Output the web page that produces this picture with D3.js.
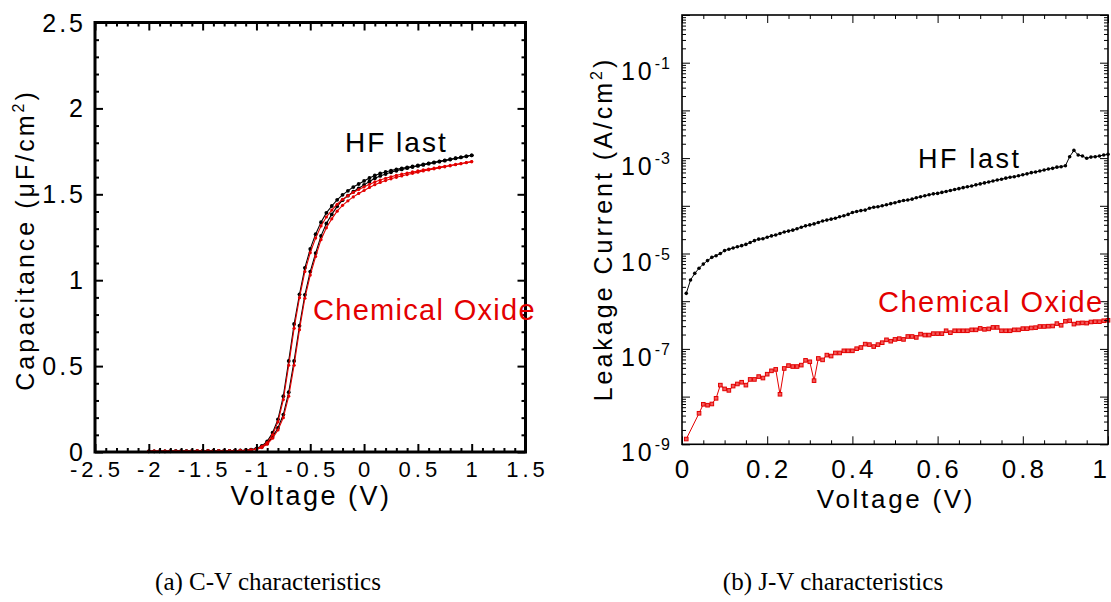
<!DOCTYPE html>
<html>
<head>
<meta charset="utf-8">
<script src="https://cdn.jsdelivr.net/npm/d3@7"></script>
<style>
  html, body { margin: 0; padding: 0; background: #fff; }
  svg { display: block; }
  text { font-family: "Liberation Sans", Arial, Helvetica, sans-serif; fill: #000; }
  .caption { font-family: "Liberation Serif", "Times New Roman", serif; }
</style>
</head>
<body>
<svg id="fig" width="1111" height="602"></svg>
<script>
// ---------- (a) C-V data: gate voltage sweep and capacitance (uF/cm^2) ----------
const cvVoltage = [-2.00,-1.95,-1.90,-1.85,-1.80,-1.75,-1.70,-1.65,-1.60,-1.55,
  -1.50,-1.45,-1.40,-1.35,-1.30,-1.25,-1.20,-1.15,-1.10,-1.05,
  -1.00,-0.95,-0.90,-0.85,-0.80,-0.75,-0.70,-0.65,-0.60,-0.55,
  -0.50,-0.45,-0.40,-0.35,-0.30,-0.25,-0.20,-0.15,-0.10,-0.05,
  0.00,0.05,0.10,0.15,0.20,0.25,0.30,0.35,0.40,0.45,
  0.50,0.55,0.60,0.65,0.70,0.75,0.80,0.85,0.90,0.95,1.00];

const hfLastSweep1 = [0.004,0.004,0.004,0.004,0.005,0.005,0.005,0.005,0.005,0.005,
  0.006,0.006,0.006,0.006,0.007,0.007,0.008,0.009,0.011,0.014,
  0.020,0.036,0.062,0.112,0.190,0.325,0.530,0.745,0.918,1.072,
  1.182,1.268,1.338,1.392,1.432,1.468,1.497,1.520,1.542,1.560,
  1.578,1.595,1.610,1.621,1.630,1.638,1.645,1.651,1.657,1.662,
  1.668,1.674,1.680,1.686,1.692,1.698,1.704,1.710,1.715,1.721,1.727];

const hfLastSweep2 = [0.004,0.004,0.004,0.004,0.004,0.005,0.005,0.005,0.005,0.005,
  0.005,0.006,0.006,0.006,0.006,0.006,0.007,0.008,0.009,0.012,
  0.017,0.029,0.050,0.088,0.140,0.218,0.348,0.530,0.735,0.915,
  1.050,1.158,1.258,1.330,1.383,1.430,1.466,1.492,1.515,1.535,
  1.555,1.575,1.593,1.607,1.618,1.628,1.637,1.645,1.652,1.659,
  1.665,1.671,1.678,1.684,1.690,1.696,1.702,1.709,1.715,1.721,1.727];

const chemOxSweep1 = [0.005,0.005,0.005,0.005,0.005,0.005,0.005,0.005,0.006,0.006,
  0.006,0.006,0.006,0.007,0.007,0.007,0.008,0.009,0.010,0.013,
  0.018,0.032,0.055,0.100,0.175,0.305,0.505,0.720,0.898,1.050,
  1.160,1.245,1.316,1.368,1.408,1.442,1.470,1.492,1.511,1.528,
  1.543,1.558,1.572,1.583,1.593,1.602,1.610,1.617,1.624,1.630,
  1.636,1.642,1.647,1.652,1.658,1.663,1.668,1.674,1.679,1.685,1.690];

const chemOxSweep2 = [0.005,0.005,0.005,0.005,0.005,0.005,0.005,0.005,0.005,0.006,
  0.006,0.006,0.006,0.006,0.006,0.007,0.007,0.008,0.009,0.011,
  0.015,0.026,0.045,0.080,0.128,0.200,0.325,0.505,0.712,0.895,
  1.030,1.138,1.236,1.305,1.357,1.402,1.436,1.462,1.485,1.505,
  1.522,1.540,1.556,1.569,1.580,1.590,1.599,1.607,1.615,1.622,
  1.629,1.636,1.642,1.648,1.654,1.660,1.666,1.672,1.678,1.684,1.690];

const cvXTicks = [-2.5,-2,-1.5,-1,-0.5,0,0.5,1,1.5];
const cvXTickLabels = ["-2.5","-2","-1.5","-1","-0.5","0","0.5","1","1.5"];
const cvYTicks = [0,0.5,1,1.5,2,2.5];
const cvYTickLabels = ["0","0.5","1","1.5","2","2.5"];

// ---------- (b) J-V data: voltage and leakage current density (A/cm^2) ----------
const jvVoltage = [0.01,0.02,0.03,0.04,0.05,0.06,0.07,0.08,0.09,0.10,
  0.11,0.12,0.13,0.14,0.15,0.16,0.17,0.18,0.19,0.20,
  0.21,0.22,0.23,0.24,0.25,0.26,0.27,0.28,0.29,0.30,
  0.31,0.32,0.33,0.34,0.35,0.36,0.37,0.38,0.39,0.40,
  0.41,0.42,0.43,0.44,0.45,0.46,0.47,0.48,0.49,0.50,
  0.51,0.52,0.53,0.54,0.55,0.56,0.57,0.58,0.59,0.60,
  0.61,0.62,0.63,0.64,0.65,0.66,0.67,0.68,0.69,0.70,
  0.71,0.72,0.73,0.74,0.75,0.76,0.77,0.78,0.79,0.80,
  0.81,0.82,0.83,0.84,0.85,0.86,0.87,0.88,0.89,0.90,
  0.91,0.92,0.93,0.94,0.95,0.96,0.97,0.98,0.99,1.00];

const hfLastJ = [1.46e-6,2.78e-6,3.84e-6,4.9e-6,6.0e-6,7.1e-6,8.3e-6,9.0e-6,1.0e-5,1.15e-5,
  1.23e-5,1.30e-5,1.39e-5,1.46e-5,1.55e-5,1.70e-5,1.86e-5,2.0e-5,2.04e-5,2.19e-5,
  2.34e-5,2.45e-5,2.63e-5,2.82e-5,2.95e-5,3.09e-5,3.31e-5,3.55e-5,3.80e-5,3.98e-5,
  4.17e-5,4.47e-5,4.79e-5,5.01e-5,5.25e-5,5.50e-5,5.89e-5,6.17e-5,6.61e-5,7.24e-5,
  7.59e-5,7.94e-5,8.13e-5,8.91e-5,9.33e-5,9.55e-5,1.0e-4,1.05e-4,1.11e-4,1.16e-4,
  1.23e-4,1.29e-4,1.32e-4,1.38e-4,1.48e-4,1.55e-4,1.62e-4,1.70e-4,1.78e-4,1.82e-4,
  1.91e-4,2.0e-4,2.09e-4,2.19e-4,2.29e-4,2.40e-4,2.51e-4,2.60e-4,2.75e-4,2.88e-4,
  3.02e-4,3.16e-4,3.31e-4,3.47e-4,3.59e-4,3.80e-4,3.98e-4,4.07e-4,4.27e-4,4.47e-4,
  4.68e-4,4.95e-4,5.13e-4,5.37e-4,5.62e-4,5.89e-4,6.10e-4,6.46e-4,6.61e-4,6.92e-4,
  1.07e-3,1.45e-3,1.16e-3,1.11e-3,9.9e-4,1.05e-3,1.07e-3,1.11e-3,1.16e-3,1.20e-3];

// null = no reading recorded at that bias
const chemOxJ = [1.29e-9,null,null,4.47e-9,6.9e-9,6.6e-9,7.0e-9,9.2e-9,1.74e-8,1.45e-8,
  1.35e-8,1.66e-8,1.84e-8,2.0e-8,1.74e-8,2.29e-8,2.29e-8,2.63e-8,2.45e-8,2.95e-8,
  3.47e-8,3.72e-8,1.12e-8,3.89e-8,4.47e-8,4.27e-8,4.27e-8,4.57e-8,5.75e-8,5.37e-8,
  2.16e-8,6.31e-8,5.89e-8,7.41e-8,7.08e-8,8.22e-8,8.22e-8,9.12e-8,9.12e-8,9.12e-8,
  1.01e-7,1.07e-7,1.26e-7,1.23e-7,1.12e-7,1.23e-7,1.35e-7,1.55e-7,1.45e-7,1.58e-7,
  1.64e-7,1.58e-7,1.82e-7,1.82e-7,1.74e-7,2.04e-7,1.95e-7,1.95e-7,2.09e-7,2.09e-7,
  2.09e-7,2.40e-7,2.19e-7,2.40e-7,2.40e-7,2.40e-7,2.40e-7,2.51e-7,2.51e-7,2.69e-7,
  2.57e-7,2.63e-7,2.82e-7,2.82e-7,2.40e-7,2.40e-7,2.40e-7,2.51e-7,2.51e-7,2.66e-7,
  2.66e-7,2.75e-7,2.79e-7,2.95e-7,2.95e-7,2.99e-7,3.02e-7,3.39e-7,3.13e-7,3.80e-7,
  3.89e-7,3.31e-7,3.47e-7,3.51e-7,3.47e-7,3.67e-7,3.72e-7,3.72e-7,3.89e-7,3.98e-7];

const jvXTicks = [0,0.2,0.4,0.6,0.8,1];
const jvXTickLabels = ["0","0.2","0.4","0.6","0.8","1"];
const jvYTicks = [1e-1,1e-3,1e-5,1e-7,1e-9];
const jvYTickExponents = ["-1","-3","-5","-7","-9"];

const seriesLabels = ["HF last", "Chemical Oxide"];
const captions = ["(a) C-V characteristics", "(b) J-V characteristics"];

const BLACK = "#000";
const RED = "#e30000";
const W = 1111;

const svg = d3.select("#fig");

// Draws inward-pointing ticks on all four sides of a plot box, then the box itself.
function frameTicks(g, x, y, opts) {
  const [x0, x1] = x.range();
  const [y0, y1] = y.range(); // y0 bottom, y1 top
  const sides = [
    {axis: () => d3.axisBottom(x), t: `translate(0,${y0})`, xs: true},
    {axis: () => d3.axisTop(x), t: `translate(0,${y1})`, xs: true},
    {axis: () => d3.axisLeft(y), t: `translate(${x0},0)`, xs: false},
    {axis: () => d3.axisRight(y), t: `translate(${x1},0)`, xs: false},
  ];
  sides.forEach(s => {
    [[s.xs ? opts.xMinor : opts.yMinor, opts.minorLen],
     [s.xs ? opts.xMajor : opts.yMajor, opts.majorLen]].forEach(([vals, len]) => {
      const a = g.append("g").attr("transform", s.t)
        .call(s.axis().tickValues(vals).tickSize(-len).tickFormat(""));
      a.select(".domain").remove();
      a.selectAll(".tick line").attr("stroke", "#000").attr("stroke-width", opts.tickWidth);
    });
  });
  g.append("rect")
    .attr("x", x0).attr("y", y1)
    .attr("width", x1 - x0).attr("height", y0 - y1)
    .attr("fill", "none").attr("stroke", "#000").attr("stroke-width", opts.frameWidth);
}

function spacedText(g, str, x, y, size, spacing, anchor) {
  return g.append("text")
    .attr("x", x).attr("y", y)
    .attr("text-anchor", anchor || "start")
    .style("font-size", size + "px")
    .style("letter-spacing", spacing + "px")
    .text(str);
}

// =================== (a) C-V characteristics ===================
const cv = svg.append("g");
const xCV = d3.scaleLinear().domain([-2.5, 1.5]).range([95, 525.5]);
const yCV = d3.scaleLinear().domain([0, 2.5]).range([452, 22.5]);

const cvSeries = [
  {v: hfLastSweep1, color: BLACK, r: 1.9},
  {v: hfLastSweep2, color: BLACK, r: 1.9},
  {v: chemOxSweep1, color: RED, r: 1.6},
  {v: chemOxSweep2, color: RED, r: 1.6},
];
const cvLine = d3.line().x(d => xCV(d[0])).y(d => yCV(d[1]));
cvSeries.forEach(s => {
  const pts = cvVoltage.map((v, i) => [v, s.v[i]]);
  cv.append("path").datum(pts).attr("d", cvLine)
    .attr("fill", "none").attr("stroke", s.color).attr("stroke-width", 1.1);
  cv.append("g").selectAll("circle").data(pts).join("circle")
    .attr("cx", d => xCV(d[0])).attr("cy", d => yCV(d[1]))
    .attr("r", s.r).attr("fill", s.color);
});

const notOnHalf = v => Math.abs(v * 2 - Math.round(v * 2)) > 1e-6;
frameTicks(cv, xCV, yCV, {
  xMajor: cvXTicks,
  xMinor: d3.range(-25, 16).map(k => k / 10).filter(notOnHalf),
  yMajor: cvYTicks,
  yMinor: d3.range(0, 26).map(k => k / 10).filter(notOnHalf),
  majorLen: 8, minorLen: 4, tickWidth: 2, frameWidth: 3
});

cvXTicks.forEach((t, i) => {
  spacedText(cv, cvXTickLabels[i], xCV(t) + 2, 477, 22, 4, "middle");
});
cvYTicks.forEach((t, i) => {
  spacedText(cv, cvYTickLabels[i], 86, yCV(t) + 9, 25, 3, "end");
});
spacedText(cv, "Voltage (V)", 311, 505, 27, 2.5, "middle");

const cvYLabel = cv.append("text")
  .attr("transform", "translate(34,240) rotate(-90)")
  .attr("text-anchor", "middle")
  .style("font-size", "25px").style("letter-spacing", "3px");
cvYLabel.append("tspan").text("Capacitance (μF/cm");
cvYLabel.append("tspan").attr("dy", -10).style("font-size", "16px").text("2");
cvYLabel.append("tspan").attr("dy", 10).text(")");

spacedText(cv, seriesLabels[0], 345, 152, 28, 2, "start").style("fill", BLACK);
spacedText(cv, seriesLabels[1], 313, 320, 29, 1.3, "start").style("fill", RED);

// =================== (b) J-V characteristics ===================
const jv = svg.append("g");
const xJV = d3.scaleLinear().domain([0, 1]).range([682, 1108]);
const yJV = d3.scaleLog().domain([1e-9, 1]).range([444.3, 15]);

const jvLine = d3.line().x(d => xJV(d[0])).y(d => yJV(d[1]));

const hfPts = jvVoltage.map((v, i) => [v, hfLastJ[i]]);
jv.append("path").datum(hfPts).attr("d", jvLine)
  .attr("fill", "none").attr("stroke", BLACK).attr("stroke-width", 1);
jv.append("g").selectAll("circle").data(hfPts).join("circle")
  .attr("cx", d => xJV(d[0])).attr("cy", d => yJV(d[1]))
  .attr("r", 1.8).attr("fill", BLACK);

const coPts = jvVoltage.map((v, i) => [v, chemOxJ[i]]).filter(d => d[1] != null);
jv.append("path").datum(coPts).attr("d", jvLine)
  .attr("fill", "none").attr("stroke", RED).attr("stroke-width", 1);
jv.append("g").selectAll("rect").data(coPts).join("rect")
  .attr("x", d => xJV(d[0]) - 1.8).attr("y", d => yJV(d[1]) - 1.8)
  .attr("width", 3.6).attr("height", 3.6)
  .attr("fill", "#f25a5a").attr("stroke", RED).attr("stroke-width", 1);

const decades = d3.range(-9, 1);
const logMinor = [];
decades.slice(0, -1).forEach(e => { for (let m = 2; m <= 9; m++) logMinor.push(m * Math.pow(10, e)); });
frameTicks(jv, xJV, yJV, {
  xMajor: jvXTicks,
  xMinor: d3.range(0, 21).map(k => k / 20).filter(v => Math.abs(v * 5 - Math.round(v * 5)) > 1e-6),
  yMajor: decades.map(e => Math.pow(10, e)),
  yMinor: logMinor,
  majorLen: 8, minorLen: 4, tickWidth: 1, frameWidth: 1.6
});

jvXTicks.forEach((t, i) => {
  const lbl = spacedText(jv, jvXTickLabels[i], xJV(t) + 1.5, 478, 26, 3, "middle");
  // keep the last label inside the page
  const bb = lbl.node().getBBox();
  if (bb.x + bb.width > W - 1) lbl.attr("x", +lbl.attr("x") - (bb.x + bb.width - (W - 1)));
});
jvYTicks.forEach((t, i) => {
  const tx = jv.append("text")
    .attr("x", 671).attr("y", yJV(t) + 17)
    .attr("text-anchor", "end")
    .style("font-size", "25px").style("letter-spacing", "3px");
  tx.append("tspan").text("10");
  tx.append("tspan").attr("dy", -11).style("font-size", "16px").style("letter-spacing", "1px")
    .text(jvYTickExponents[i]);
});
spacedText(jv, "Voltage (V)", 896, 508, 26, 2.7, "middle");

const jvYLabel = jv.append("text")
  .attr("transform", "translate(612,229) rotate(-90)")
  .attr("text-anchor", "middle")
  .style("font-size", "25px").style("letter-spacing", "3px");
jvYLabel.append("tspan").text("Leakage Current (A/cm");
jvYLabel.append("tspan").attr("dy", -10).style("font-size", "16px").text("2");
jvYLabel.append("tspan").attr("dy", 10).text(")");

spacedText(jv, seriesLabels[0], 918, 168, 27, 2.6, "start").style("fill", BLACK);
spacedText(jv, seriesLabels[1], 878, 312, 29, 1.5, "start").style("fill", RED);

// =================== captions ===================
svg.append("text").attr("class", "caption")
  .attr("x", 268).attr("y", 590).attr("text-anchor", "middle")
  .style("font-size", "25px").text(captions[0]);
svg.append("text").attr("class", "caption")
  .attr("x", 833).attr("y", 590).attr("text-anchor", "middle")
  .style("font-size", "25px").text(captions[1]);
</script>
</body>
</html>
